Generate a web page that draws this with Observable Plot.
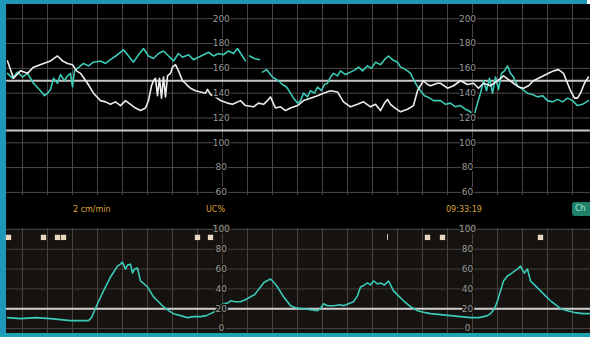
<!DOCTYPE html>
<html><head><meta charset="utf-8">
<script src="https://cdn.jsdelivr.net/npm/d3@7"></script>
<script src="https://cdn.jsdelivr.net/npm/@observablehq/plot@0.6"></script>
<style>
body{margin:0;background:#fff;font-family:"DejaVu Sans",sans-serif}
#frame{position:relative;width:590px;height:342px;background:#fff;overflow:hidden}
.abs{position:absolute}
#bg{left:6px;top:4px;width:584px;height:329px;background:#000}
#bTop{left:0;top:0;width:587px;height:4px;background:#1f95b6}
#bLeft{left:0;top:0;width:6px;height:337px;background:#1f97b8}
#bBot{left:0;top:333px;width:590px;height:4px;background:#1ba2b4}
#topPanel{left:6px;top:4px}
#botPanel{left:6px;top:228px}
.lbl{font-size:8px;color:#d9a232;white-space:nowrap;line-height:10px}
#chbox{left:572px;top:202px;width:20px;height:14px;background:#1e7f6b;border-radius:3px;font-size:8px;color:#a8e8cf;line-height:14px;padding-left:3px;box-sizing:border-box}
</style></head>
<body>
<div id="frame">
  <div id="bg" class="abs"></div>
  <div id="bTop" class="abs"></div>
  <div id="bLeft" class="abs"></div>
  <div id="bBot" class="abs"></div>
  <div id="botPanel" class="abs"></div>
  <div id="topPanel" class="abs"></div>
  <div class="abs lbl" style="left:73px;top:205px">2 cm/min</div>
  <div class="abs lbl" style="left:206px;top:205px">UC%</div>
  <div class="abs lbl" style="left:446px;top:205px">09:33:19</div>
  <div id="chbox" class="abs">Ch</div>
</div>
<script>
// ---- data (time in seconds) ----
const fhr1T = [-6,-3.6,-0.8,2,4.4,8.4,11.2,14,16,18,20,21.6,23.2,26,28.4,31.2,33.2,35.2,37.2,39.2,41.2,43.2,45.2,47.2,49.2,50.4,51.6,52.4,53.2,54,54.8,55.6,56.4,57.2,58,59.2,60,61.2,62.4,64,65.2,66,67.2,69.2,71.2,73.2,74,75.2,77.2,79.2,82,84,87.2,89.2,92.4,94.4,96.4,98,99.2,101.2,103.2,105.2,107.2,110,112.4,115.2,118,120.4,123.2,126,128.4,131.2,134,136.4,139.2,141.2,143.2,144.8,146,147.2,148.4,151.2,154,156.4,158,160.4,162,163.2,166,167.2,170,172.4,175.2,178,180.4,182.4,184.4,187.2,190,192.4,194.4,196.4,198.4,200.4,202.4,204.4,206.4,208.4,210.4,212.4,214.4,216.4,218,219.2,220.8,222,223.2,224.8,226.4];
const fhr1V = [166,152,158,156,161,164,166,170,166,164,163,158,156,148,140,134,133,131,133,130,134,131,128,126,128,134,146,150,152,138,152,136,153,137,154,156,161,163,158,150,148,146,144,142,141,140,143,139,137,134,132,131,134,130,129,132,131,134,137,128,129,126,128,130,134,136,138,140,142,141,133,129,131,133,129,131,126,132,135,131,129,125,127,130,142,150,147,146,148,148,144,146,150,147,148,144,148,146,150,154,151,148,145,144,146,150,152,154,156,158,159,156,148,142,136,136,140,148,153];

const fhr2T = [-6,-4,-2,0,2,4.4,7.2,8.8,10,11.2,12.4,14,15.2,16.8,18,19.2,20,20.8,22,24.4,26.4,28.4,31.2,33.2,35.2,38,40.4,42.4,44.4,46.4,48.4,50.4,52.4,54.4,56.4,58.4,60.4,62.4,64,66.4,68.4,70.4,72.4,74.4,76.4,78.4,80.4,82.4,84.4,86,87.6,89.2,90,90.8,92.8,94.8,95.4,96,97.6,100,102.4,104,105.6,107.2,108.4,110,111.2,112.4,114,115.2,116.8,118,119.6,120.8,122,123.2,124.4,126,127.2,129.2,131.2,133.2,134.4,136,138,139.6,141.2,143.2,144.8,146.4,148,150,151.2,152.4,154,155.2,157.2,159.2,160.8,162,164.4,167.2,169.2,171.2,173.2,175.2,177.2,179.2,180.4,182,183.2,184.4,185.6,186.8,188,189.2,190.4,191.6,192.8,194,195.2,196.4,198,200,202,204,206,208,210,212,214,216,218,220,222,224,226.4];
const fhr2V = [156,152,157,153,156,148,142,138,140,143,152,148,155,150,154,156,145,158,160,164,162,165,166,164,167,171,175,170,165,171,176,170,168,172,174,170,166,172,169,171,167,169,171,173,170,172,171,174,172,176,171,166,null,170,168,167,null,157,159,153,150,147,145,140,136,132,134,140,137,142,140,145,142,147,148,153,156,154,158,155,157,159,161,158,162,160,165,163,167,170,167,165,161,160,158,156,148,142,138,137,134,134,131,132,129,130,127,125,120,132,140,150,142,152,140,153,143,156,158,162,156,153,146,143,140,139,137,138,134,133,135,133,136,134,130,131,134];

const tocoT = [-6,-0.8,5.2,11.2,15.2,19.2,23.2,26.4,27.6,30,32.4,35.2,38,39.2,40,41.2,42,43.2,44,44.8,46,47.2,50,52.4,54.4,56.4,58.4,60.4,63.2,66,68.4,71.2,73.6,75.2,76.8,78,79.2,80.4,82.4,83.2,85.2,87.2,89.2,91.2,92.8,94,95.2,96.4,97.6,99.2,100.4,102,103.2,104.4,106,107.2,109.2,112.4,115.2,118,119.2,120.4,122,124.4,127.2,128.4,130.4,132.4,134,135.2,136.8,138,139.2,140.4,142,143.2,144.8,146.4,147.6,148.4,150.4,152.4,155.2,158,161.2,163.2,167.2,171.2,175.2,179.2,182.4,184.4,186,187.2,188.8,190,191.2,192.4,194,195.2,196.8,198,199.2,200,200.8,202,203.2,205.2,207.2,209.2,211.2,213.2,215.2,218,221.2,224,227.2];
const tocoV = [11,10,11,10,9,8,8,8,11,25,38,52,63,65,67,60,64,65,56,60,61,48,42,32,27,22,18,15,13,11,12,12,13,15,17,20,23,25,26,28,27,27,29,32,34,38,42,46,48,50,47,42,37,32,27,23,21,20,19,18,20,25,23,23,24,23,25,27,33,42,44,46,44,48,45,46,44,48,42,38,33,28,22,18,16,15,14,13,12,11,11,12,13,15,20,28,38,48,53,55,58,60,63,59,56,60,48,43,38,33,28,24,20,18,16,15,15];

const markT = [-5.6,8.4,14,16.4,70,75.2,162,168,207.2];
const tickMarkT = [146];

const fhrTicks = [60,80,100,120,140,160,180,200];
const fhrBand = [110,150];
const ucTicks = [0,20,40,60,80,100];
const ucBand = [20];
const timeGrid = d3.range(0,230,10);
const labelCols = [79.5,178];

const xDomain = [-6.4,227.2];

const labelRows = (ticks) => labelCols.flatMap(t => ticks.map(v => ({t, v})));

const topPlot = Plot.plot({
  width:584, height:191, margin:0,
  style:{background:"transparent", overflow:"visible", fontFamily:"DejaVu Sans, sans-serif"},
  x:{domain:xDomain, axis:null},
  y:{domain:[57.5,211.5], axis:null},
  marks:[
    Plot.ruleX(timeGrid,{stroke:"#4d4248", strokeWidth:1}),
    Plot.ruleY(fhrTicks,{stroke:"#4a4a4a", strokeWidth:1}),
    Plot.ruleY(fhrBand,{stroke:"#c8c8c8", strokeWidth:2}),
    Plot.line(fhr2V,{x:fhr2T, y:d=>d, stroke:"#3cc9b6", strokeWidth:1.6}),
    Plot.line(fhr1V,{x:fhr1T, y:d=>d, stroke:"#ececec", strokeWidth:1.6}),
    Plot.text(labelRows(fhrTicks),{x:"t", y:"v", text:d=>String(d.v), fill:"#999", stroke:"#000", strokeWidth:3, fontSize:9})
  ]
});
document.getElementById("topPanel").appendChild(topPlot);

const botPlot = Plot.plot({
  width:584, height:105, margin:0,
  style:{background:"#15120f", overflow:"visible", fontFamily:"DejaVu Sans, sans-serif"},
  x:{domain:xDomain, axis:null},
  y:{domain:[-5.05,101], axis:null},
  marks:[
    Plot.ruleX(timeGrid,{stroke:"#48423f", strokeWidth:1}),
    Plot.ruleY(ucTicks,{stroke:"#46413e", strokeWidth:1}),
    Plot.ruleY(ucBand,{stroke:"#cfcfcf", strokeWidth:2}),
    Plot.line(tocoV,{x:tocoT, y:d=>d, stroke:"#3ccab8", strokeWidth:1.6}),
    Plot.dot(markT,{x:d=>d, y:()=>92, symbol:"square", r:3, fill:"#ead9c0", stroke:"none"}),
    Plot.ruleX(tickMarkT,{y1:89, y2:95, stroke:"#cfc4b4", strokeWidth:1}),
    Plot.text(labelRows(ucTicks),{x:"t", y:"v", text:d=>String(d.v), fill:"#999", stroke:"#15120f", strokeWidth:3, fontSize:9})
  ]
});
document.getElementById("botPanel").appendChild(botPlot);
</script>
</body></html>
